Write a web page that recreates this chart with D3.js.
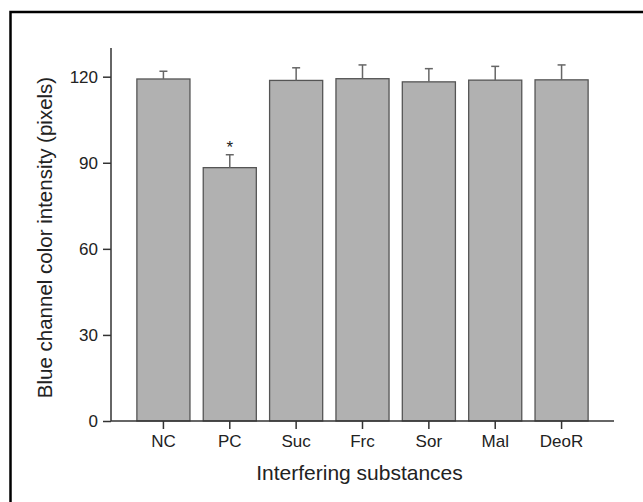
<!DOCTYPE html>
<html>
<head>
<meta charset="utf-8">
<script src="https://cdn.jsdelivr.net/npm/d3@7"></script>
<style>
  body { margin: 0; background: #fff; }
  text { font-family: "Liberation Sans", Arial, sans-serif; fill: #222; }
</style>
</head>
<body>
<script>
// data
const categories = ["NC", "PC", "Suc", "Frc", "Sor", "Mal", "DeoR"];
const means      = [119.2, 88.3, 118.7, 119.3, 118.2, 118.8, 118.9];
const errors     = [2.7, 4.5, 4.4, 4.8, 4.6, 4.8, 5.2];
const marked     = ["PC"];
const yTicks     = [0, 30, 60, 90, 120];

const width = 643, height = 502;
const margin = { left: 111, right: 29, top: 48, bottom: 81 };

const svg = d3.select("body").append("svg")
  .attr("width", width)
  .attr("height", height);

// outer frame (runs off the right and bottom edges)
svg.append("rect")
  .attr("x", 10.5).attr("y", 12)
  .attr("width", width + 20).attr("height", height + 20)
  .attr("fill", "#fff")
  .attr("stroke", "#000")
  .attr("stroke-width", 2.5);

const x = d3.scaleBand()
  .domain(categories)
  .range([margin.left, width - margin.right])
  .paddingInner(0.2)
  .paddingOuter(0.39);

const y = d3.scaleLinear()
  .domain([0, 130])
  .range([height - margin.bottom, margin.top]);

const rows = categories.map((c, i) => ({ c, m: means[i], e: errors[i] }));

// bars
svg.selectAll("rect.bar")
  .data(rows)
  .join("rect")
    .attr("class", "bar")
    .attr("x", d => x(d.c))
    .attr("y", d => y(d.m))
    .attr("width", x.bandwidth())
    .attr("height", d => y(0) - y(d.m))
    .attr("fill", "#b1b1b1")
    .attr("stroke", "#555")
    .attr("stroke-width", 1.3);

// error bars (upper half only)
const err = svg.selectAll("g.err")
  .data(rows)
  .join("g")
    .attr("class", "err")
    .attr("stroke", "#666")
    .attr("stroke-width", 1.5);

err.append("line")
  .attr("x1", d => x(d.c) + x.bandwidth() / 2)
  .attr("x2", d => x(d.c) + x.bandwidth() / 2)
  .attr("y1", d => y(d.m))
  .attr("y2", d => y(d.m + d.e));

err.append("line")
  .attr("x1", d => x(d.c) + x.bandwidth() / 2 - 4)
  .attr("x2", d => x(d.c) + x.bandwidth() / 2 + 4)
  .attr("y1", d => y(d.m + d.e))
  .attr("y2", d => y(d.m + d.e));

// significance star
svg.selectAll("text.star")
  .data(rows.filter(d => marked.includes(d.c)))
  .join("text")
    .attr("class", "star")
    .attr("x", d => x(d.c) + x.bandwidth() / 2)
    .attr("y", d => y(d.m + d.e) - 2)
    .attr("text-anchor", "middle")
    .attr("font-size", 17)
    .text("*");

// axes
const xAxis = svg.append("g")
  .attr("transform", `translate(0,${y(0)})`)
  .call(d3.axisBottom(x).tickSize(8).tickSizeOuter(0).tickPadding(6));

const yAxis = svg.append("g")
  .attr("transform", `translate(${margin.left},0)`)
  .call(d3.axisLeft(y).tickValues(yTicks).tickSize(8).tickSizeOuter(0).tickPadding(5));

[xAxis, yAxis].forEach(g => {
  g.select(".domain").attr("stroke", "#333").attr("stroke-width", 1.5);
  g.selectAll(".tick line").attr("stroke", "#333").attr("stroke-width", 1.5);
  g.selectAll(".tick text")
    .attr("font-size", 17)
    .attr("font-family", "Liberation Sans, Arial, sans-serif")
    .attr("fill", "#222");
});
// x axis extends past the last bar on the right only
xAxis.select(".domain").attr("d", `M${margin.left},0H${width - margin.right}`);
yAxis.select(".domain").attr("d", `M0,${y(130)}V${y(0)}`);

// axis titles
svg.append("text")
  .attr("x", (margin.left + width - margin.right) / 2 - 3)
  .attr("y", 480)
  .attr("text-anchor", "middle")
  .attr("font-size", 21)
  .text("Interfering substances");

svg.append("text")
  .attr("transform", `translate(52,${(y(0) + y(130)) / 2 + 3}) rotate(-90)`)
  .attr("text-anchor", "middle")
  .attr("font-size", 20.5)
  .text("Blue channel color intensity (pixels)");
</script>
</body>
</html>
